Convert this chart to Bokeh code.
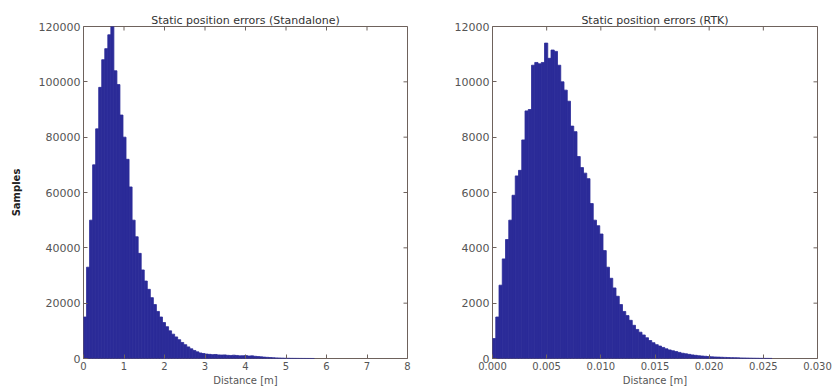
import numpy as np
from bokeh.plotting import figure
from bokeh.layouts import row
from bokeh.models import Range1d, FixedTicker, LinearAxis, PrintfTickFormatter
from bokeh.embed import file_html
from bokeh.resources import INLINE

# ---- data ----
standalone_bin_width = 0.075  # m
standalone_counts = [
    15000, 33000, 50000, 70000, 83000, 98000, 108000, 112000, 117000, 120000,
    104000, 99000, 88000, 80000, 72000, 62000, 50000, 44000, 38000, 32000,
    28000, 25000, 22000, 19500, 17000, 15000, 13000, 11500, 10000, 8800,
    7800, 6800, 5800, 5000, 4200, 3500, 2900, 2400, 2000, 1800,
    1600, 1500, 1400, 1450, 1300, 1250, 1300, 1150, 1100, 1200,
    1100, 950, 1000, 1050, 900, 950, 800, 700, 600, 500,
    420, 350, 280, 220, 170, 130, 100, 80, 60, 50,
    40, 30, 25, 20, 15, 10,
]
rtk_bin_width = 0.0003  # m
rtk_counts = [
    720, 1500, 2650, 3600, 4300, 5000, 5900, 6600, 6800, 7900,
    8950, 9000, 10600, 10700, 10650, 10700, 11400, 10850, 11150, 11100,
    10600, 10000, 9700, 9300, 8400, 8200, 7300, 6900, 6700, 6500,
    5600, 5000, 4800, 4500, 3900, 3300, 2900, 2550, 2250, 1950,
    1700, 1550, 1380, 1200, 1050, 950, 850, 750, 650, 570,
    500, 450, 400, 350, 310, 280, 250, 220, 190, 170,
    150, 130, 115, 100, 90, 80, 70, 60, 55, 50,
    45, 40, 35, 30, 28, 25, 20, 18, 15, 12,
    10, 8, 6, 5, 4, 3,
]
titles = ["Static position errors (Standalone)", "Static position errors (RTK)"]
x_label = "Distance [m]"
y_label = "Samples"
standalone_xticks = [0, 1, 2, 3, 4, 5, 6, 7, 8]
standalone_yticks = [0, 20000, 40000, 60000, 80000, 100000, 120000]
rtk_xticks = [0.0, 0.005, 0.010, 0.015, 0.020, 0.025, 0.030]
rtk_yticks = [0, 2000, 4000, 6000, 8000, 10000, 12000]

BAR = "#2b2b98"
FRAME = "#6e625c"
TXT = "#555555"
FONT = "DejaVu Sans"


def style_axis(ax):
    ax.axis_line_color = None
    ax.major_tick_in = 4
    ax.major_tick_out = 0
    ax.major_tick_line_color = FRAME
    ax.minor_tick_line_color = None
    ax.major_label_text_color = TXT
    ax.major_label_text_font = FONT
    ax.axis_label_text_font = FONT
    ax.major_label_standoff = 3


def make(title, counts, bw, xr, yr, xt, yt, width, left, right, xfmt, ylab=None):
    p = figure(width=width, height=388, output_backend="svg", toolbar_location=None,
               x_range=Range1d(*xr), y_range=Range1d(*yr),
               min_border_left=left, min_border_right=right,
               min_border_top=26, min_border_bottom=28,
               x_axis_type=None, y_axis_type=None)
    p.title.text = title
    p.title.align = "center"
    p.title.text_font = FONT
    p.title.text_font_size = "11px"
    p.title.text_font_style = "normal"
    p.title.text_color = "#333333"
    p.title.standoff = 0
    p.title.offset = 0
    p.grid.visible = False
    p.outline_line_color = FRAME
    p.outline_line_width = 1
    p.background_fill_color = "white"
    p.border_fill_color = "white"

    edges = np.arange(len(counts) + 1) * bw
    p.quad(left=edges[:-1], right=edges[1:], bottom=0, top=counts,
           fill_color=BAR, line_color=BAR, line_width=0.8)

    xa = LinearAxis(ticker=FixedTicker(ticks=xt), formatter=xfmt)
    ya = LinearAxis(ticker=FixedTicker(ticks=yt), formatter=PrintfTickFormatter(format="%d"))
    for ax in (xa, ya):
        style_axis(ax)
    xa.major_label_text_font_size = "10px"
    ya.major_label_text_font_size = "11px"
    xa.axis_label = x_label
    xa.axis_label_text_font_size = "10px"
    xa.axis_label_text_font_style = "normal"
    xa.axis_label_text_color = TXT
    xa.axis_label_standoff = 2
    if ylab:
        ya.axis_label = ylab
        ya.axis_label_text_font_size = "10px"
        ya.axis_label_text_font_style = "bold"
        ya.axis_label_text_color = "#222222"
        ya.axis_label_standoff = 14
    p.add_layout(xa, "below")
    p.add_layout(ya, "left")

    # mirrored tick marks on top and right edges (matplotlib style)
    p.ray(x=xt, y=[yr[1]] * len(xt), length=4, length_units="screen",
          angle=-np.pi / 2, line_color=FRAME, line_width=1)
    p.ray(x=[xr[1]] * len(yt), y=yt, length=4, length_units="screen",
          angle=np.pi, line_color=FRAME, line_width=1)
    return p


p1 = make(titles[0], standalone_counts, standalone_bin_width, (0, 8), (0, 120000),
          standalone_xticks, standalone_yticks, 450, 83, 43,
          PrintfTickFormatter(format="%d"), ylab=y_label)
p2 = make(titles[1], rtk_counts, rtk_bin_width, (0, 0.03), (0, 12000),
          rtk_xticks, rtk_yticks, 384, 42, 17,
          PrintfTickFormatter(format="%.3f"))

layout = row(p1, p2)
open("out.html", "w").write(file_html(layout, INLINE))
